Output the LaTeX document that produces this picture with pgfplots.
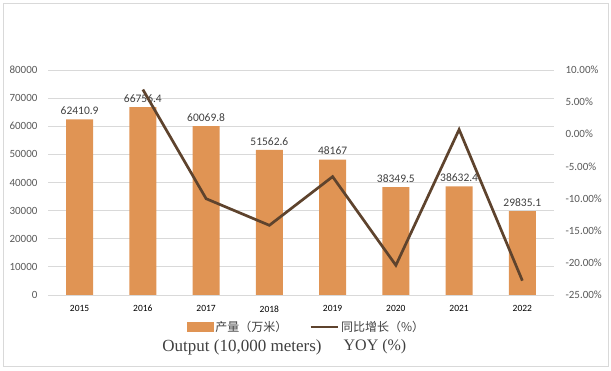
\documentclass[border=0pt]{standalone}
\usepackage{pgfplots}
\pgfplotsset{compat=1.18}
\usepackage{fontspec}
\setmainfont{Carlito}
\newfontfamily\cjk{Noto Sans CJK SC}
\newfontfamily\serif{Liberation Serif}
\definecolor{barc}{RGB}{224,148,84}
\definecolor{linec}{RGB}{94,67,45}
\definecolor{gridc}{RGB}{217,217,217}
\definecolor{tickc}{RGB}{89,89,89}
\definecolor{labc}{RGB}{64,64,64}
\pgfplotstableread{
x y label
0 62410.9 62410.9
1 66756.4 66756.4
2 60069.8 60069.8
3 51562.6 51562.6
4 48167 48167
5 38349.5 38349.5
6 38632.4 38632.4
7 29835.1 29835.1
}\output
\pgfplotstableread{
x y
1 6.96
2 -10.02
3 -14.16
4 -6.59
5 -20.38
6 0.74
7 -22.77
}\yoy
\begin{document}
\begin{tikzpicture}[x=1pt,y=1pt]
\path (0,0) rectangle (611,371);
\draw[gridc] (3,5) rectangle (608,368);
\begin{axis}[
  at={(48pt,76pt)}, anchor=south west,
  scale only axis, width=506pt, height=225pt,
  xmin=-0.5, xmax=7.5, ymin=0, ymax=80000,
  xtick={0,...,7}, xticklabels={2015,2016,2017,2018,2019,2020,2021,2022},
  ytick={0,10000,...,80000},
  scaled y ticks=false,
  ymajorgrids, grid style={gridc, line width=0.8pt},
  axis line style={draw=none}, major tick length=0pt,
  /pgf/number format/assume math mode=true,
  yticklabel style={font=\fontsize{11}{13}\selectfont, text=tickc, /pgf/number format/fixed, /pgf/number format/1000 sep={}, xshift=-7pt},
  xticklabel style={font=\fontsize{9.5}{11}\selectfont, text=black, yshift=-7pt},
  clip=false,
]
\addplot[ybar, bar width=27pt, fill=barc, draw=none,
  nodes near coords, point meta=explicit symbolic,
  nodes near coords style={font=\fontsize{11.5}{13}\selectfont, text=labc, yshift=1pt}]
  table[x=x, y=y, meta=label] {\output};
\end{axis}
\begin{axis}[
  at={(48pt,76pt)}, anchor=south west,
  scale only axis, width=506pt, height=225pt,
  xmin=-0.5, xmax=7.5, ymin=-25, ymax=10,
  xtick=\empty,
  axis y line*=right,
  axis line style={draw=none}, major tick length=0pt,
  ytick={-25,-20,...,10},
  yticklabel={\pgfmathprintnumber[fixed,fixed zerofill,precision=2,assume math mode=true]{\tick}\%},
  yticklabel style={font=\fontsize{11}{13}\selectfont, text=tickc, anchor=west, xshift=8pt},
  legend columns=2,
  legend style={at={(0.511,-0.142)}, anchor=center, draw=none, fill=none,
    font=\cjk\fontsize{12}{14}\selectfont, text=labc,
    /tikz/every even column/.append style={column sep=20pt}},
  clip=false,
]
\addlegendimage{legend image code/.code={\fill[barc] (0pt,-4pt) rectangle (26pt,4.5pt);}}
\addlegendentry{产量（万米）}
\addplot[linec, line width=2.7pt, mark=none,
  legend image code/.code={\draw[linec, line width=2.7pt] (0pt,0pt) -- (27pt,0pt);}]
  table[x=x, y=y] {\yoy};
\addlegendentry{同比增长（\%）}
\end{axis}
\node[font=\serif\fontsize{17}{19}\selectfont, text=labc] at (242,24) {Output (10,000 meters)};
\node[font=\serif\fontsize{16}{18}\selectfont, text=labc] at (375,24) {YOY (\%)};
\end{tikzpicture}
\end{document}
